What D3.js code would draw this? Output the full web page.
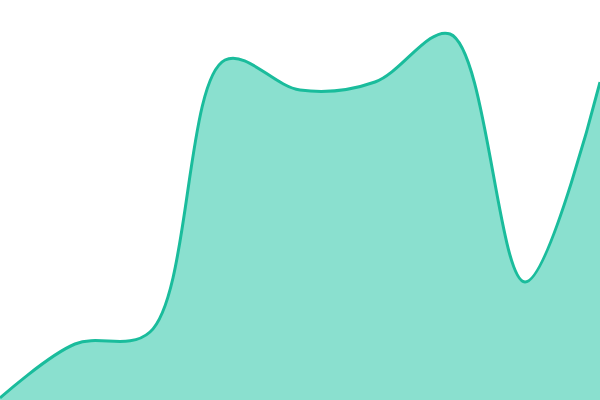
<!DOCTYPE html>
<html>
<head>
<meta charset="utf-8">
<script src="https://cdn.jsdelivr.net/npm/d3@7"></script>
<style>
  body { margin: 0; background: #fff; }
  svg { display: block; }
</style>
</head>
<body>
<svg id="chart" width="600" height="400"></svg>
<script>
// values, one per evenly spaced step
let steps = [0, 1, 2, 3, 4, 5, 6, 7, 8];
let values = [0.5, 14, 17, 85, 77.5, 79.5, 91.5, 29.5, 79.5];

let svg = d3.select("#chart"),
    width = +svg.attr("width"),
    height = +svg.attr("height");

let xScale = d3.scaleLinear().domain([0, 8]).range([0, width]),
    yScale = d3.scaleLinear().domain([0, 100]).range([height, 0]);

let data = steps.map(function (s, i) { return [s, values[i]]; });

let area = d3.area()
    .x(function (d) { return xScale(d[0]); })
    .y0(height)
    .y1(function (d) { return yScale(d[1]); })
    .curve(d3.curveCatmullRom);

let line = d3.line()
    .x(function (d) { return xScale(d[0]); })
    .y(function (d) { return yScale(d[1]); })
    .curve(d3.curveCatmullRom);

svg.append("path")
    .datum(data)
    .attr("d", area)
    .style("fill", "#8ae0cf");

svg.append("path")
    .datum(data)
    .attr("d", line)
    .style("fill", "none")
    .style("stroke", "#1abc9c")
    .style("stroke-width", 3);
</script>
</body>
</html>
